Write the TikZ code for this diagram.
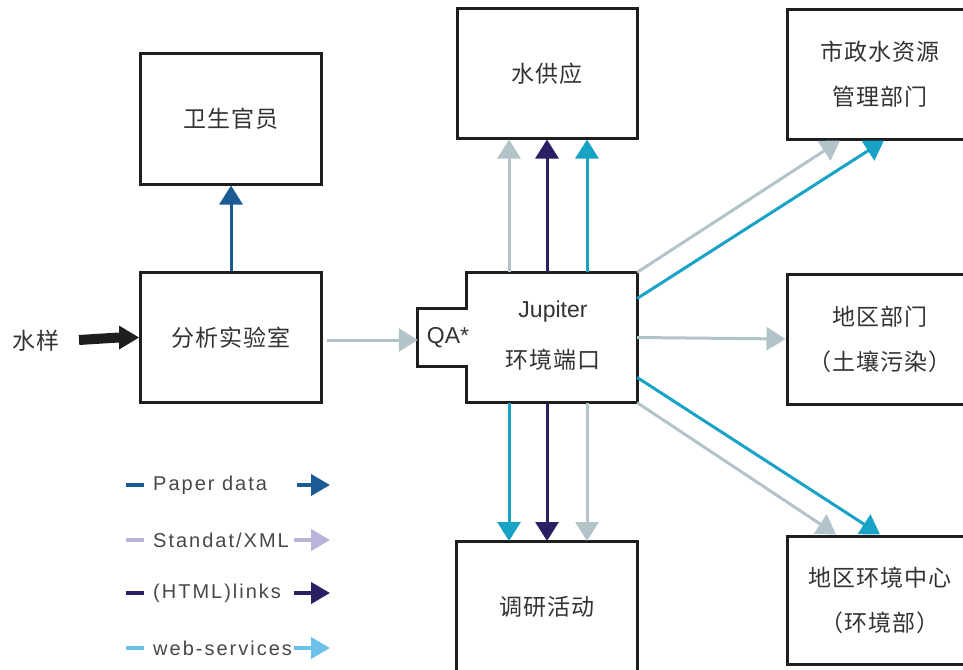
\documentclass[tikz,border=0pt]{standalone}
\usepackage{fontspec}
\setmainfont{Liberation Sans}
\newfontfamily\cjk{Noto Sans CJK SC}[LetterSpace=4]
\newfontfamily\legfont{Liberation Sans}[LetterSpace=10]
\usetikzlibrary{arrows.meta}
\definecolor{paper}{HTML}{1B5A94}
\definecolor{xmlgray}{HTML}{B3C4C9}
\definecolor{navy}{HTML}{2A1F63}
\definecolor{cyanw}{HTML}{18A2C6}
\definecolor{lav}{HTML}{B9B5DA}
\definecolor{websv}{HTML}{6CC0EA}
\definecolor{txt}{HTML}{333333}
\definecolor{border}{HTML}{1E1E1E}
\begin{document}
\begin{tikzpicture}[x=1pt,y=-1pt,
  box/.style={draw=border, line width=3pt, minimum width=181pt, minimum height=130pt,
    inner sep=0pt, align=center, text=txt, font=\cjk\fontsize{23}{45}\selectfont},
  widebox/.style={box, minimum width=186pt},
  lbl/.style={inner sep=0pt, text=txt},
  arr/.style={line width=3pt, -{Triangle[width=23pt,length=19pt]}},
  legarr/.style={line width=4pt, -{Triangle[width=21pt,length=19pt]}},
  legdash/.style={line width=4pt},
  legtxt/.style={anchor=west, inner sep=0pt, text=txt!90, font=\legfont\fontsize{20}{22}\selectfont}
]
\useasboundingbox (0,0) rectangle (963,669);

% boxes
\node[box] (health) at (231,119) {卫生官员};
\node[box] (lab) at (231,337.5) {分析实验室};
\node[box, minimum width=180pt, minimum height=129pt] (sup) at (547,73.5) {水供应};
\node[widebox, minimum height=129pt] (muni) at (880,74.5) {市政水资源\\管理部门};
\node[widebox] (region) at (880,339) {地区部门\\（土壤污染）};
\node[box] (survey) at (547,606.5) {调研活动};
\node[widebox, minimum height=128pt] (envc) at (880,600) {地区环境中心\\（环境部）};

% Jupiter box with QA notch
\node[minimum width=170pt, minimum height=130pt, inner sep=0pt] (jup) at (552,337.5) {};
\node[minimum width=49pt, minimum height=57pt, inner sep=0pt] (qa) at (442.5,337.5) {};
\draw[border, line width=3pt, line join=miter]
  (jup.north west) -- (jup.north east) -- (jup.south east) -- (jup.south west)
  -- (jup.south west |- qa.south) -- (qa.south west) -- (qa.north west)
  -- (jup.north west |- qa.north) -- cycle;
\node[lbl, font=\fontsize{23}{26}\selectfont] (qatxt) at (448,338) {QA*};
\node[lbl, font=\fontsize{23}{26}\selectfont] (jt) at (553,312) {Jupiter};
\node[lbl, font=\cjk\fontsize{23}{26}\selectfont] (jcn) at (553,360) {环境端口};

% sample
\node[lbl, font=\cjk\fontsize{23}{26}\selectfont] (sample) at (36,341) {水样};
\coordinate (sampleout) at (79,340);
\coordinate (blackbase) at ([xshift=-20pt]lab.west);
\draw[border, line width=10pt] (sampleout) -- (blackbase);
\fill[border] (lab.west) -- ([yshift=12pt]blackbase) -- ([yshift=-12pt]blackbase) -- cycle;

% lab connections
\draw[arr, paper] (lab.north) -- (health.south);
\coordinate (labout) at (327,340);
\draw[arr, xmlgray] (labout) -- (qa.west |- labout);

% up arrows to supply
\coordinate (u1) at ([xshift=-38pt]sup.south);
\coordinate (u2) at (sup.south);
\coordinate (u3) at ([xshift=40pt]sup.south);
\draw[arr, xmlgray] (u1 |- jup.north) -- (u1);
\draw[arr, navy] (u2 |- jup.north) -- (u2);
\draw[arr, cyanw] (u3 |- jup.north) -- (u3);

% down arrows to survey
\coordinate (d1) at (509,541);
\coordinate (d2) at (547,541);
\coordinate (d3) at (587,541);
\draw[arr, cyanw] (d1 |- jup.south) -- (d1);
\draw[arr, navy] (d2 |- jup.south) -- (d2);
\draw[arr, xmlgray] (d3 |- jup.south) -- (d3);

% right-side arrows
\draw[arr, xmlgray] (jup.north east) -- ([xshift=-40pt]muni.south);
\draw[arr, cyanw] ([yshift=39pt]jup.east) -- ([xshift=4pt]muni.south);
\draw[arr, xmlgray] (jup.east) -- (region.west);
\draw[arr, cyanw] ([yshift=-40pt]jup.east) -- ([xshift=0pt]envc.north);
\draw[arr, xmlgray] (jup.south east) -- ([xshift=-44pt]envc.north);

% legend
\coordinate (la1) at (126,485); \coordinate (lb1) at (144,485);
\coordinate (la2) at (126,540); \coordinate (lb2) at (144,540);
\coordinate (la3) at (126,593); \coordinate (lb3) at (144,593);
\coordinate (la4) at (126,648); \coordinate (lb4) at (144,648);
\draw[legdash, paper] (la1) -- (lb1);
\draw[legdash, lav] (la2) -- (lb2);
\draw[legdash, navy] (la3) -- (lb3);
\draw[legdash, websv] (la4) -- (lb4);
\node[legtxt] (lt1) at (153,485) {Paper data};
\node[legtxt] (lt2) at (153,540) {Standat/XML};
\node[legtxt] (lt3) at (153,593) {(HTML)links};
\node[legtxt] (lt4) at (153,648) {web-services};
\coordinate (ls1) at (297,485); \coordinate (le1) at (330,485);
\coordinate (ls2) at (294,540); \coordinate (le2) at (330,540);
\coordinate (ls3) at (294,593); \coordinate (le3) at (330,593);
\coordinate (ls4) at (294,648); \coordinate (le4) at (330,648);
\draw[legarr, paper] (ls1) -- (le1);
\draw[legarr, lav] (ls2) -- (le2);
\draw[legarr, navy] (ls3) -- (le3);
\draw[legarr, websv] (ls4) -- (le4);
\end{tikzpicture}
\end{document}
